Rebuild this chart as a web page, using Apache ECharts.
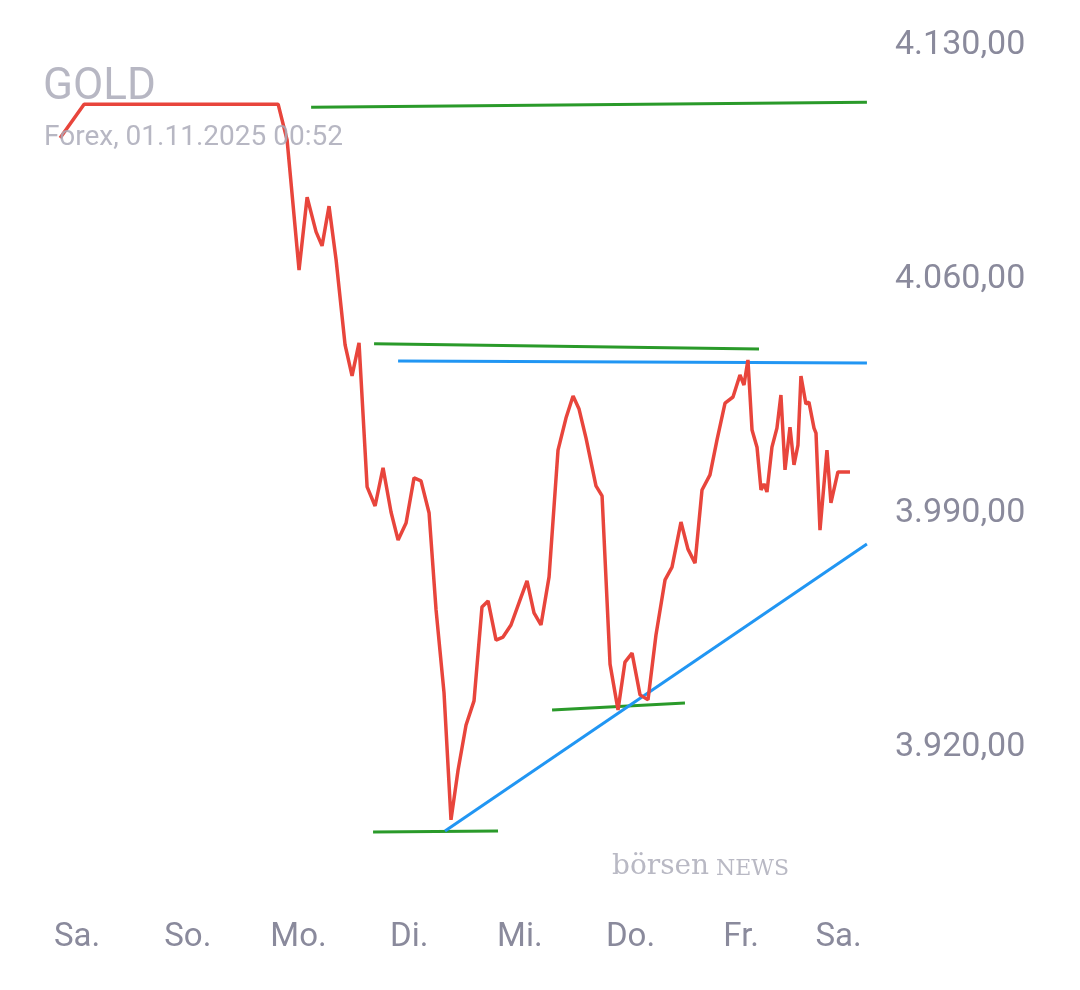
<!DOCTYPE html>
<html>
<head>
<meta charset="utf-8">
<script src="https://cdn.jsdelivr.net/npm/echarts@6/dist/echarts.min.js"></script>
<style>html,body{margin:0;padding:0;background:#fff}#c{width:1080px;height:990px}</style>
</head>
<body>
<div id="c"></div>
<script>
// x = Tage ab Samstag 00:00, y = Kurs
const dayNames = ["Sa.", "So.", "Mo.", "Di.", "Mi.", "Do.", "Fr.", "Sa."];
const dayTicks = [0, 1, 2, 3, 4, 5, 6, 6.88];
const goldX = [-0.154,0.063,1.816,1.897,2.005,2.078,2.159,2.213,2.276,2.340,2.421,2.484,2.547,2.620,2.692,2.764,2.836,2.900,2.972,3.044,3.107,3.180,3.243,3.315,3.378,3.442,3.514,3.586,3.658,3.713,3.785,3.848,3.920,4.002,4.065,4.128,4.191,4.264,4.345,4.417,4.481,4.535,4.598,4.688,4.743,4.815,4.887,4.950,5.014,5.086,5.158,5.230,5.312,5.375,5.456,5.519,5.583,5.646,5.718,5.781,5.854,5.926,5.989,6.025,6.061,6.098,6.143,6.179,6.206,6.233,6.278,6.323,6.359,6.396,6.441,6.477,6.513,6.540,6.585,6.612,6.658,6.676,6.712,6.775,6.811,6.874,6.983];
const goldY = [4102.2,4112.3,4112.3,4101.6,4062.7,4084.5,4074.1,4069.9,4081.8,4065.7,4040.3,4031,4040.9,3997.8,3992.1,4003.5,3990.3,3981.9,3987,4000.5,3999.6,3990,3961,3936.2,3898.2,3913.1,3926.6,3933.8,3961.9,3963.7,3952,3952.9,3956.5,3964,3969.7,3960.1,3956.5,3970.9,4008.8,4018.4,4025,4021.1,4012.4,3998.1,3995.1,3944.8,3931.1,3945.4,3948.1,3935.6,3934.1,3953.5,3970,3973.8,3987.3,3979.2,3975,3996.9,4001.4,4011.8,4022.9,4024.7,4031.3,4028.3,4035.8,4014.8,4009.7,3996.9,3998.7,3996.3,4009.7,4015.4,4025.3,4002.9,4015.7,4004.4,4010.3,4031,4022.6,4023.2,4015.4,4013.9,3984.9,4008.8,3993,4002.3,4002.3];
// Trendlinien: [x1, y1, x2, y2]
const greenLines = [
  [2.114, 4111.4, 7.136, 4112.9],
  [2.683, 4040.6, 6.161, 4039.1],
  [2.674, 3894.6, 3.803, 3894.9],
  [4.291, 3931.1, 5.492, 3933.2]
];
const blueLines = [
  [2.900, 4035.5, 7.136, 4034.9],
  [3.324, 3894.9, 7.136, 3980.7]
];

function fmt(v) {
  let s = v.toFixed(2).split(".");
  return s[0].replace(/\B(?=(\d{3})+(?!\d))/g, ".") + "," + s[1];
}
const lineSeries = (arr, color) => arr.map(l => ({
  type: "line", symbol: "none", silent: true,
  lineStyle: { color: color, width: 3 },
  data: [[l[0], l[1]], [l[2], l[3]]], z: 1
}));

const chart = echarts.init(document.getElementById("c"));
chart.setOption({
  animation: false,
  grid: { left: 55, right: 206, top: 11.6, bottom: 126 },
  xAxis: {
    type: "value", min: -0.2, max: 7.2,
    axisLine: { show: false }, axisTick: { show: false }, splitLine: { show: false },
    axisLabel: {
      customValues: dayTicks, margin: 57, fontSize: 33, color: "#8a8a9c",
      fontFamily: "Roboto",
      formatter: v => dayNames[dayTicks.indexOf(v)] || ""
    }
  },
  yAxis: {
    type: "value", position: "right", min: 3885, max: 4140, interval: 35,
    axisLine: { show: false }, axisTick: { show: false }, splitLine: { show: false },
    axisLabel: {
      margin: 21, fontSize: 34, color: "#8a8a9c", fontFamily: "Roboto",
      showMaxLabel: false,
      formatter: v => ((v - 3920) % 70 === 0 ? fmt(v) : "")
    }
  },
  graphic: [
    { type: "text", left: 43, top: 66, z: 10, style: { text: "GOLD", font: "44px Roboto", fill: "rgba(170,170,185,0.85)" } },
    { type: "text", left: 44, top: 124, z: 10, style: { text: "Forex, 01.11.2025 00:52", font: "28px Roboto", fill: "rgba(170,170,185,0.85)" } },
    { type: "text", left: 612, top: 853, z: 10, style: { text: "börsen", font: "28px 'DejaVu Serif'", fill: "#b9b9c4" } },
    { type: "text", left: 716, top: 858, z: 10, style: { text: "NEWS", font: "22px 'DejaVu Serif'", fill: "#b9b9c4" } }
  ],
  series: [
    ...lineSeries(greenLines, "#2a9a2a"),
    ...lineSeries(blueLines, "#2196f3"),
    {
      type: "line", symbol: "none", silent: true, z: 2,
      lineStyle: { color: "#e8453c", width: 3.5 },
      data: goldX.map((x, i) => [x, goldY[i]])
    }
  ]
});
</script>
</body>
</html>
